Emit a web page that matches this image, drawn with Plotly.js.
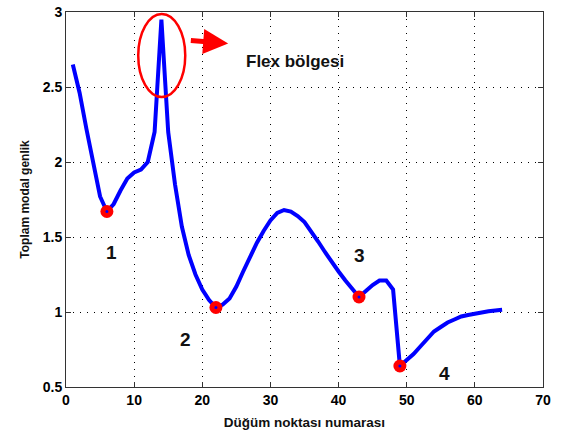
<!DOCTYPE html>
<html>
<head>
<meta charset="utf-8">
<script src="https://cdn.plot.ly/plotly-3.0.1.min.js"></script>
<style>html,body{margin:0;padding:0;background:#fff}#chart{width:562px;height:435px}</style>
</head>
<body>
<div id="chart"></div>
<script>
const nodes = [1,2,3,4,5,6,7,8,9,10,11,12,13,14,15,16,17,18,19,20,21,22,23,24,25,26,27,28,29,30,31,32,33,34,35,36,37,38,39,40,41,42,43,44,45,46,47,48,49,50,51,52,53,54,55,56,57,58,59,60,61,62,63,64];
const amplitude = [2.65,2.46,2.22,1.98,1.77,1.67,1.72,1.81,1.89,1.93,1.95,2.00,2.20,2.95,2.20,1.85,1.57,1.38,1.25,1.15,1.08,1.03,1.05,1.09,1.17,1.27,1.37,1.46,1.54,1.61,1.66,1.68,1.67,1.64,1.60,1.54,1.47,1.40,1.33,1.27,1.21,1.15,1.10,1.14,1.18,1.21,1.21,1.15,0.64,0.68,0.72,0.77,0.82,0.87,0.90,0.93,0.95,0.97,0.98,0.99,1.00,1.005,1.01,1.015];
const minNodes = [6,22,43,49];
const minValues = [1.67,1.03,1.10,0.64];
const minLabels = ['1','2','3','4'];
const labelX = [6.7,17.5,43.0,55.5];
const labelY = [1.40,0.82,1.38,0.59];
const xTicks = [0,10,20,30,40,50,60,70];
const yTicks = [0.5,1,1.5,2,2.5,3];

const traces = [
  {x: nodes, y: amplitude, mode: 'lines', line: {color: '#0000ff', width: 4}, hoverinfo: 'skip'},
  {x: minNodes, y: minValues, mode: 'markers', marker: {color: '#ff0000', size: 13}, hoverinfo: 'skip'},
  {x: minNodes, y: minValues, mode: 'markers', marker: {color: '#0000ff', size: 3}, hoverinfo: 'skip'}
];

const annotations = minLabels.map((t, i) => ({
  x: labelX[i], y: labelY[i], xref: 'x', yref: 'y', text: t, showarrow: false,
  font: {family: 'Liberation Sans, Arial, sans-serif', size: 19, color: '#111', weight: 'bold'}
}));
annotations.push({
  x: 33.6, y: 2.67, xref: 'x', yref: 'y', text: 'Flex bölgesi', showarrow: false,
  font: {family: 'Liberation Sans, Arial, sans-serif', size: 17, color: '#111', weight: 'bold'}
});
annotations.push({
  x: 23.8, y: 2.79, ax: 18.1, ay: 2.81, xref: 'x', yref: 'y', axref: 'x', ayref: 'y',
  text: '', showarrow: true, arrowhead: 2, arrowsize: 1, arrowwidth: 5, arrowcolor: '#ff0000'
});

const axisCommon = {
  showline: true, mirror: 'ticks', linecolor: '#333', linewidth: 1,
  ticks: 'inside', ticklen: 5, tickcolor: '#333',
  showgrid: true, gridcolor: '#000', gridwidth: 1, griddash: '1px,6px',
  zeroline: false,
  tickfont: {family: 'Liberation Sans, Arial, sans-serif', size: 14, color: '#000', weight: 'bold'}
};

const layout = {
  width: 562, height: 435,
  margin: {l: 66, r: 19, t: 12, b: 48},
  paper_bgcolor: '#fff', plot_bgcolor: '#fff',
  showlegend: false,
  xaxis: Object.assign({}, axisCommon, {
    range: [0, 70], tickvals: xTicks, ticktext: xTicks.map(String),
    title: {text: 'Düğüm noktası numarası', standoff: 10,
      font: {family: 'Liberation Sans, Arial, sans-serif', size: 13.5, color: '#111', weight: 'bold'}}
  }),
  yaxis: Object.assign({}, axisCommon, {
    range: [0.5, 3], tickvals: yTicks, ticktext: yTicks.map(String),
    title: {text: 'Toplam modal genlik', standoff: 10,
      font: {family: 'Liberation Sans, Arial, sans-serif', size: 12, color: '#111', weight: 'bold'}}
  }),
  shapes: [{
    type: 'circle', xref: 'x', yref: 'y', x0: 10.6, x1: 17.5, y0: 2.433, y1: 2.987,
    line: {color: '#ff0000', width: 2.5}
  }],
  annotations: annotations
};

Plotly.newPlot('chart', traces, layout, {displayModeBar: false, staticPlot: true});
</script>
</body>
</html>
